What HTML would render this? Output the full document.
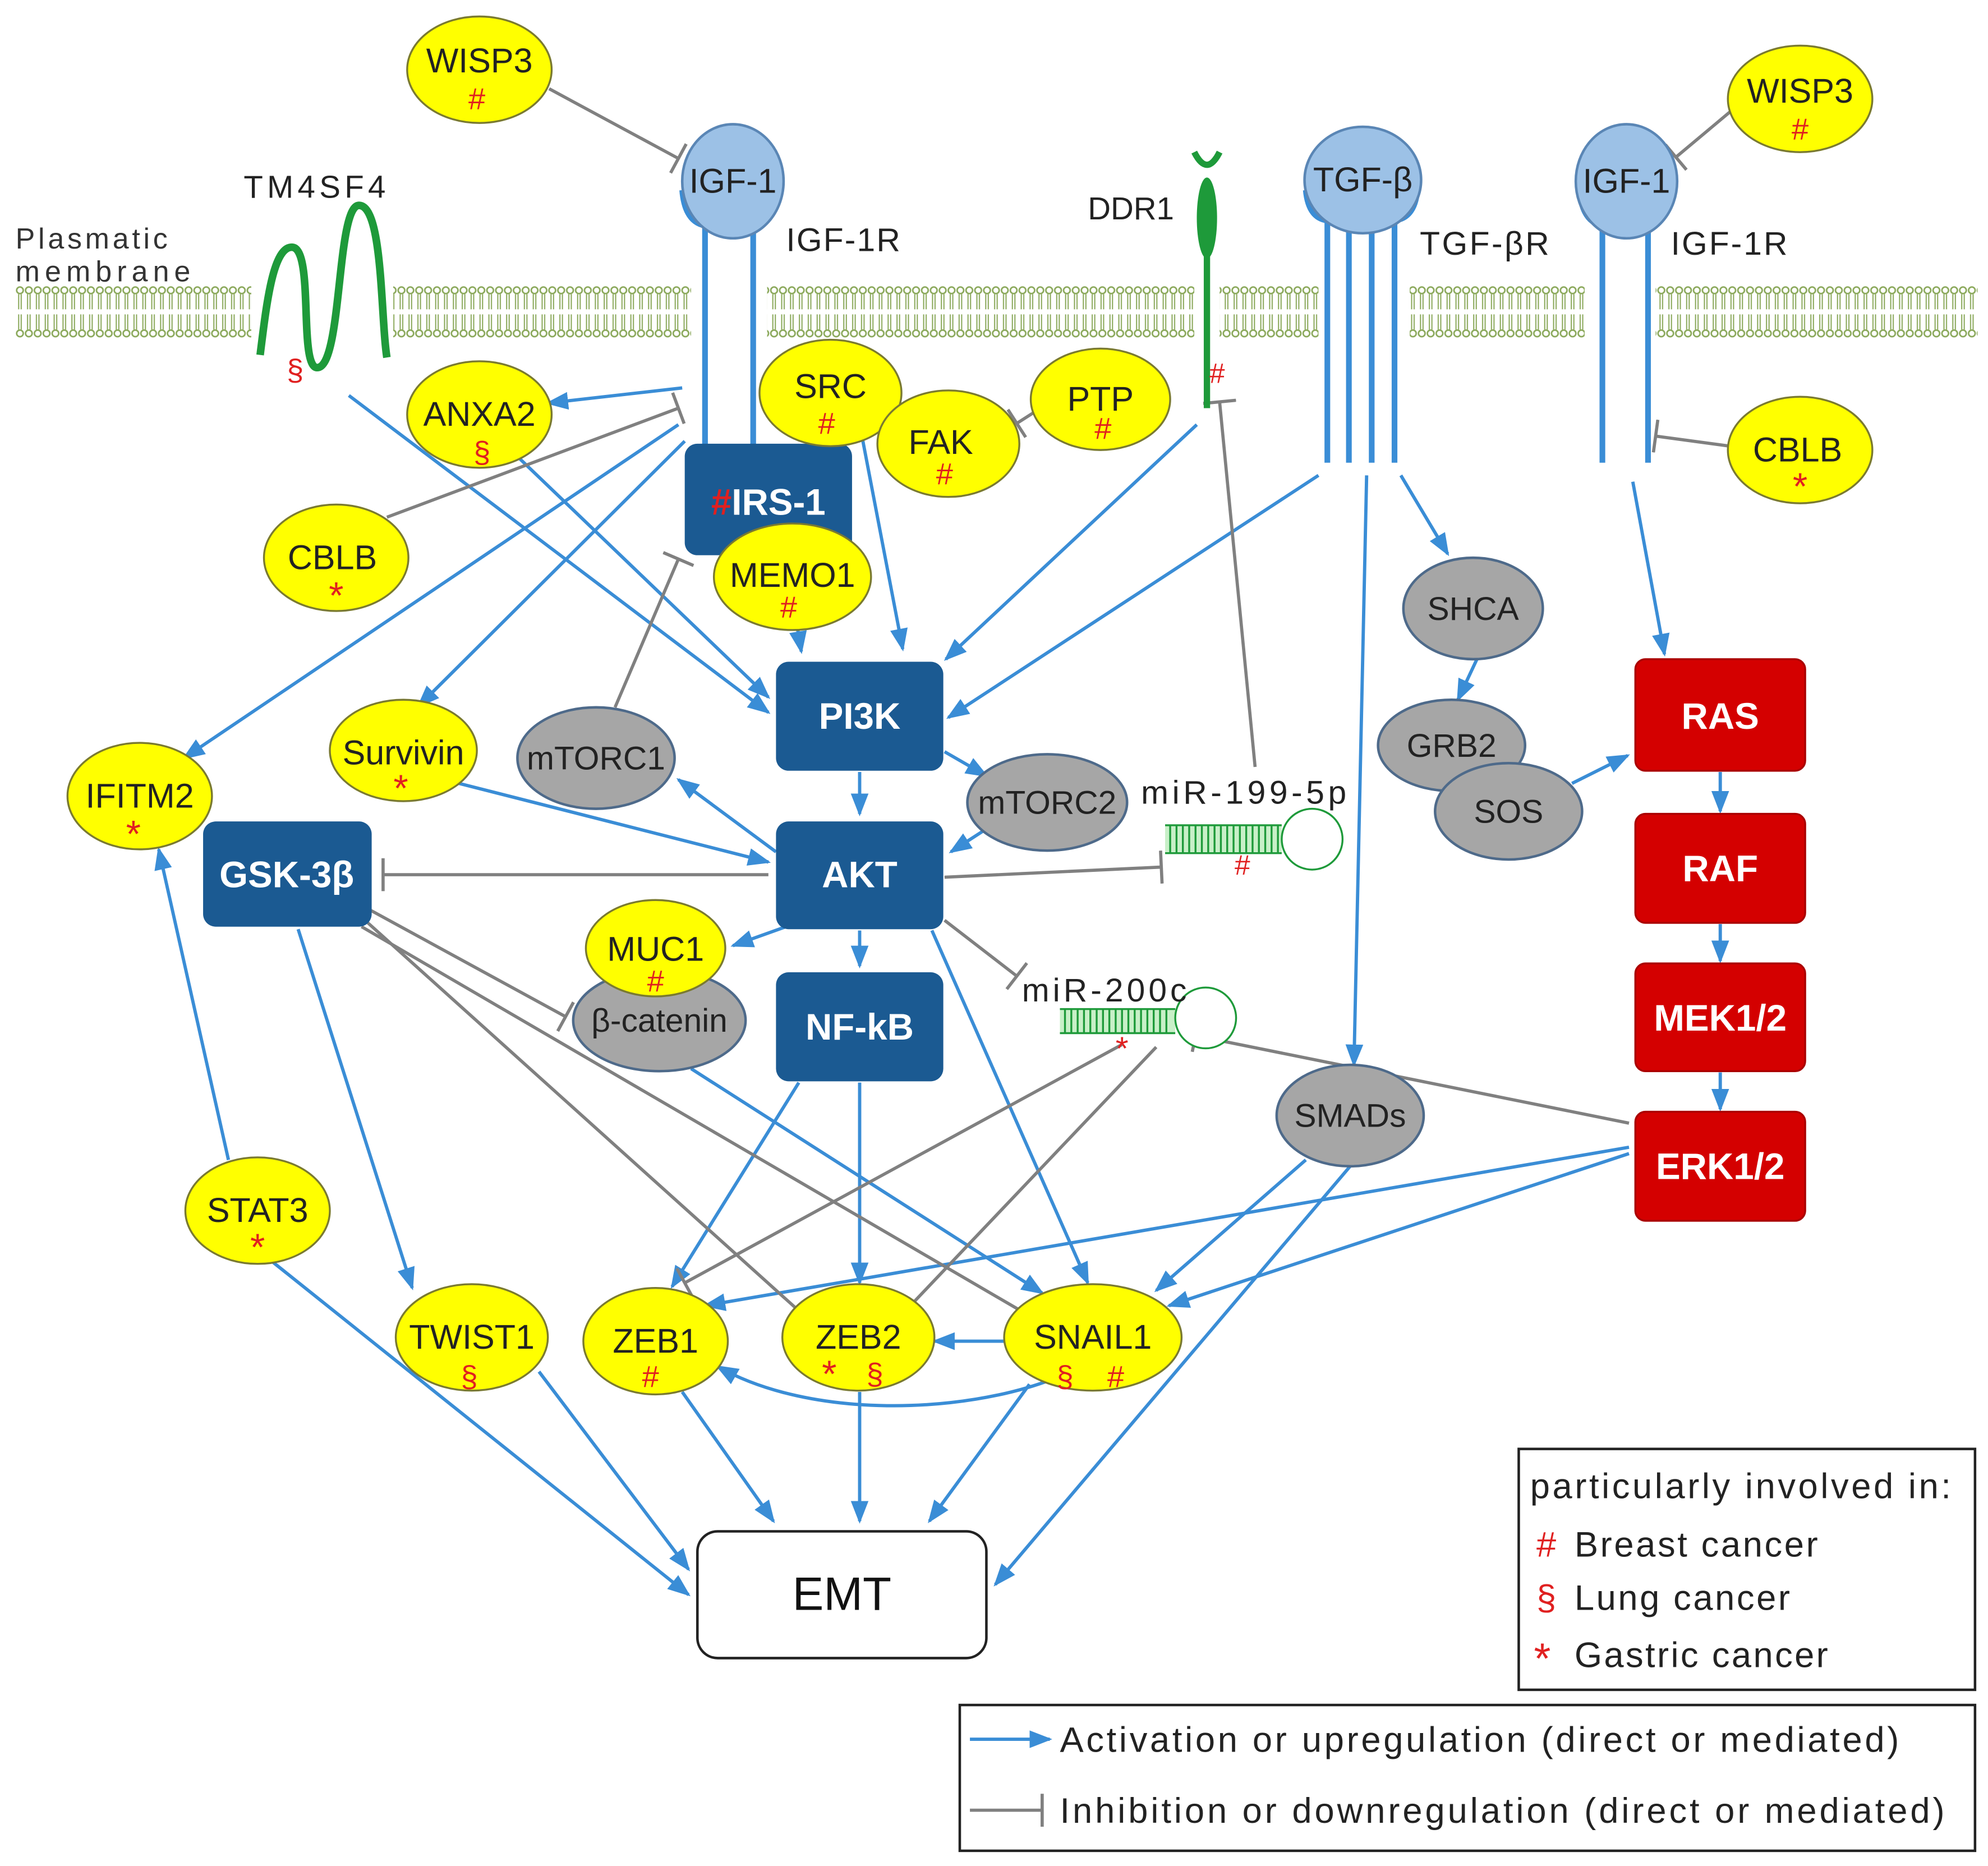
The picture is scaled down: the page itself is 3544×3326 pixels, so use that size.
<!DOCTYPE html>
<html><head><meta charset="utf-8"><style>
html,body{margin:0;padding:0;background:#fff}
svg{display:block}
text{font-family:"Liberation Sans",sans-serif}
</style></head><body>
<svg width="3544" height="3326" viewBox="0 0 1568 1472" xmlns="http://www.w3.org/2000/svg">
<defs>
<pattern id="lip" x="12" y="222" width="7" height="50" patternUnits="userSpaceOnUse">
<circle cx="3.5" cy="7" r="2.6" fill="none" stroke="#8aa85a" stroke-width="1.2"/>
<circle cx="3.5" cy="41" r="2.6" fill="none" stroke="#8aa85a" stroke-width="1.2"/>
<path d="M2.5,10 L2.5,22 M4.5,10 L4.5,22 M2.5,26 L2.5,38 M4.5,26 L4.5,38" stroke="#8aa85a" stroke-width="0.9"/>
</pattern>
<marker id="ar" markerUnits="userSpaceOnUse" markerWidth="18" markerHeight="14" refX="16" refY="7" orient="auto"><path d="M0,0 L18,7 L0,14 z" fill="#3a8dd6"/></marker>
<marker id="tb" markerUnits="userSpaceOnUse" markerWidth="6" markerHeight="26" refX="2" refY="13" orient="auto"><path d="M2,0 L2,26" stroke="#808080" stroke-width="2.5"/></marker>
</defs>

<rect x="12" y="222" width="1548" height="50" fill="url(#lip)"/>
<rect x="198" y="220" width="112" height="56" fill="#fff"/>
<rect x="545" y="220" width="60" height="56" fill="#fff"/>
<rect x="942" y="220" width="20" height="56" fill="#fff"/>
<rect x="1040" y="220" width="72" height="56" fill="#fff"/>
<rect x="1250" y="220" width="56" height="56" fill="#fff"/>

<text x="12" y="196" font-size="23" fill="#333" textLength="120">Plasmatic</text>
<text x="12" y="222" font-size="23" fill="#333" textLength="138">membrane</text>
<text x="192" y="156" font-size="25" fill="#222" textLength="112">TM4SF4</text>
<path d="M205,280 C210,240 215,195 230,195 C248,195 235,290 250,290 C270,290 265,162 283,162 C302,162 300,250 305,282" fill="none" stroke="#1e9a3a" stroke-width="6"/>
<text x="226" y="300" font-size="24" fill="#e02020">§</text>

<g stroke="#3a8dd6" stroke-width="2.6" fill="none" marker-end="url(#ar)">
<line x1="275" y1="312" x2="606" y2="562"/>
<line x1="538" y1="306" x2="432" y2="318"/>
<line x1="535" y1="335" x2="145" y2="598"/>
<line x1="540" y1="348" x2="330" y2="557"/>
<line x1="410" y1="362" x2="606" y2="550"/>
<line x1="680" y1="345" x2="712" y2="512"/>
<line x1="628" y1="490" x2="632" y2="514"/>
<line x1="944" y1="335" x2="746" y2="520"/>
<line x1="1040" y1="375" x2="748" y2="566"/>
<line x1="1078" y1="375" x2="1068" y2="840"/>
<line x1="1105" y1="375" x2="1142" y2="437"/>
<line x1="1165" y1="520" x2="1150" y2="552"/>
<line x1="1240" y1="618" x2="1284" y2="596"/>
<line x1="1288" y1="380" x2="1313" y2="516"/>
<line x1="1357" y1="609" x2="1357" y2="640"/>
<line x1="1357" y1="729" x2="1357" y2="758"/>
<line x1="1357" y1="846" x2="1357" y2="875"/>
<line x1="678" y1="609" x2="678" y2="642"/>
<line x1="745" y1="593" x2="778" y2="612"/>
<line x1="612" y1="672" x2="535" y2="615"/>
<line x1="784" y1="650" x2="750" y2="672"/>
<line x1="358" y1="617" x2="606" y2="680"/>
<line x1="678" y1="734" x2="678" y2="762"/>
<line x1="620" y1="731" x2="578" y2="746"/>
<line x1="735" y1="734" x2="858" y2="1012"/>
<line x1="630" y1="854" x2="530" y2="1015"/>
<line x1="678" y1="854" x2="678" y2="1012"/>
<line x1="545" y1="843" x2="822" y2="1020"/>
<line x1="235" y1="733" x2="325" y2="1016"/>
<line x1="180" y1="915" x2="125" y2="670"/>
<line x1="208" y1="990" x2="543" y2="1258"/>
<line x1="425" y1="1082" x2="543" y2="1238"/>
<line x1="538" y1="1098" x2="610" y2="1200"/>
<line x1="678" y1="1098" x2="678" y2="1200"/>
<line x1="812" y1="1092" x2="733" y2="1200"/>
<line x1="1065" y1="920" x2="785" y2="1250"/>
<line x1="1030" y1="915" x2="912" y2="1018"/>
<line x1="1285" y1="905" x2="556" y2="1030"/>
<line x1="1285" y1="910" x2="922" y2="1030"/>
<line x1="795" y1="1058" x2="737" y2="1058"/>
<path d="M830,1088 C760,1115 640,1120 566,1078"/>
</g>

<g stroke="#808080" stroke-width="2.5" fill="none" marker-end="url(#tb)">
<line x1="433" y1="70" x2="535" y2="125"/>
<line x1="1365" y1="88" x2="1322" y2="124"/>
<line x1="1365" y1="352" x2="1306" y2="344"/>
<line x1="305" y1="408" x2="535" y2="322"/>
<line x1="816" y1="325" x2="802" y2="334"/>
<line x1="485" y1="558" x2="535" y2="441"/>
<line x1="990" y1="605" x2="962" y2="317"/>
<line x1="745" y1="692" x2="916" y2="684"/>
<line x1="606" y1="690" x2="302" y2="690"/>
<line x1="292" y1="718" x2="446" y2="802"/>
<line x1="290" y1="728" x2="630" y2="1034"/>
<line x1="285" y1="731" x2="812" y2="1038"/>
<line x1="745" y1="726" x2="802" y2="770"/>
<line x1="1285" y1="886" x2="943" y2="817"/>
<line x1="885" y1="824" x2="540" y2="1012"/>
<line x1="912" y1="826" x2="718" y2="1030"/>
</g>

<g stroke="#3a8dd6" stroke-width="4.5" fill="none">
<line x1="556" y1="172" x2="556" y2="352"/><line x1="594" y1="172" x2="594" y2="352"/>
<path d="M538,150 Q540,175 556,178 M612,150 Q610,175 594,178"/>
<line x1="1264" y1="172" x2="1264" y2="365"/><line x1="1300" y1="172" x2="1300" y2="365"/>
<path d="M1246,150 Q1248,175 1264,178 M1318,150 Q1316,175 1300,178"/>
<line x1="1047" y1="172" x2="1047" y2="365"/><line x1="1064" y1="178" x2="1064" y2="365"/>
<line x1="1082" y1="178" x2="1082" y2="365"/><line x1="1100" y1="172" x2="1100" y2="365"/>
<path d="M1030,150 Q1032,172 1047,174 M1118,150 Q1116,172 1100,174"/>
</g>
<ellipse cx="578" cy="143" rx="40" ry="45" fill="#9cc1e6" stroke="#5a86b5" stroke-width="2"/>
<text x="578" y="152" font-size="27" text-anchor="middle" fill="#222">IGF-1</text>
<ellipse cx="1283" cy="143" rx="40" ry="45" fill="#9cc1e6" stroke="#5a86b5" stroke-width="2"/>
<text x="1283" y="152" font-size="27" text-anchor="middle" fill="#222">IGF-1</text>
<ellipse cx="1075" cy="142" rx="46" ry="42" fill="#9cc1e6" stroke="#5a86b5" stroke-width="2"/>
<text x="1075" y="151" font-size="27" text-anchor="middle" fill="#222">TGF-β</text>
<text x="620" y="198" font-size="26" fill="#222" textLength="90">IGF-1R</text>
<text x="1318" y="201" font-size="26" fill="#222" textLength="92">IGF-1R</text>
<text x="1120" y="201" font-size="26" fill="#222" textLength="102">TGF-βR</text>
<text x="858" y="173" font-size="25" fill="#222">DDR1</text>
<path d="M952,150 L952,322" stroke="#1e9a3a" stroke-width="5"/>
<ellipse cx="952" cy="172" rx="8" ry="32" fill="#1e9a3a"/>
<path d="M942,120 Q952,140 962,120" stroke="#1e9a3a" stroke-width="5" fill="none"/>
<text x="960" y="302" font-size="22" fill="#e02020" text-anchor="middle">#</text>

<g stroke="#1e9a3a" stroke-width="1.5" fill="none">
<rect x="919" y="651" width="92" height="22" fill="#c8f0c8" stroke="none"/>
<path d="M919,651 L1011,651 M919,673 L1011,673"/>
<path d="M923,651 V673 M928,651 V673 M933,651 V673 M938,651 V673 M943,651 V673 M948,651 V673 M953,651 V673 M958,651 V673 M963,651 V673 M968,651 V673 M973,651 V673 M978,651 V673 M983,651 V673 M988,651 V673 M993,651 V673 M998,651 V673 M1003,651 V673 M1008,651 V673"/>
<circle cx="1035" cy="662" r="24" fill="#fff"/>
<rect x="836" y="796" width="91" height="19" fill="#c8f0c8" stroke="none"/>
<path d="M836,796 L927,796 M836,815 L927,815"/>
<path d="M840,796 V815 M845,796 V815 M850,796 V815 M855,796 V815 M860,796 V815 M865,796 V815 M870,796 V815 M875,796 V815 M880,796 V815 M885,796 V815 M890,796 V815 M895,796 V815 M900,796 V815 M905,796 V815 M910,796 V815 M915,796 V815 M920,796 V815"/>
<circle cx="951" cy="803" r="24" fill="#fff"/>
</g>
<text x="900" y="634" font-size="26" fill="#222" textLength="162">miR-199-5p</text>
<text x="980" y="690" font-size="22" fill="#e02020" text-anchor="middle">#</text>
<text x="806" y="790" font-size="26" fill="#222" textLength="130">miR-200c</text>
<text x="885" y="836" font-size="26" fill="#e02020" text-anchor="middle">*</text>

<g font-weight="bold" font-size="29" fill="#fff" text-anchor="middle">
<rect x="540" y="350" width="132" height="88" rx="10" fill="#1b5a92"/>
<text x="606" y="406"><tspan fill="#e02020">#</tspan>IRS-1</text>
<rect x="612" y="522" width="132" height="86" rx="10" fill="#1b5a92"/><text x="678" y="575">PI3K</text>
<rect x="612" y="648" width="132" height="85" rx="10" fill="#1b5a92"/><text x="678" y="700">AKT</text>
<rect x="612" y="767" width="132" height="86" rx="10" fill="#1b5a92"/><text x="678" y="820">NF-kB</text>
<rect x="160" y="648" width="133" height="83" rx="10" fill="#1b5a92"/><text x="226" y="700">GSK-3β</text>
<rect x="1290" y="520" width="134" height="88" rx="8" fill="#d40000" stroke="#a00" stroke-width="1.5"/><text x="1357" y="575">RAS</text>
<rect x="1290" y="642" width="134" height="86" rx="8" fill="#d40000" stroke="#a00" stroke-width="1.5"/><text x="1357" y="695">RAF</text>
<rect x="1290" y="760" width="134" height="85" rx="8" fill="#d40000" stroke="#a00" stroke-width="1.5"/><text x="1357" y="813">MEK1/2</text>
<rect x="1290" y="877" width="134" height="86" rx="8" fill="#d40000" stroke="#a00" stroke-width="1.5"/><text x="1357" y="930">ERK1/2</text>
</g>

<g fill="#a6a6a6" stroke="#4e6a8a" stroke-width="2">
<ellipse cx="470" cy="598" rx="62" ry="40"/>
<ellipse cx="826" cy="633" rx="63" ry="38"/>
<ellipse cx="1162" cy="480" rx="55" ry="40"/>
<ellipse cx="1145" cy="588" rx="58" ry="36"/>
<ellipse cx="1190" cy="640" rx="58" ry="38"/>
<ellipse cx="1065" cy="880" rx="58" ry="40"/>
<ellipse cx="520" cy="805" rx="68" ry="40"/>
</g>
<g font-size="26" fill="#222" text-anchor="middle">
<text x="470" y="607">mTORC1</text><text x="826" y="642">mTORC2</text>
<text x="1162" y="489">SHCA</text><text x="1145" y="597">GRB2</text>
<text x="1190" y="649">SOS</text><text x="1065" y="889">SMADs</text>
<text x="520" y="814">β-catenin</text>
</g>

<g fill="#ffff00" stroke="#7a7a30" stroke-width="1.5">
<ellipse cx="378" cy="55" rx="57" ry="42"/><ellipse cx="1420" cy="78" rx="57" ry="42"/>
<ellipse cx="655" cy="310" rx="56" ry="42"/><ellipse cx="868" cy="315" rx="55" ry="40"/>
<ellipse cx="748" cy="350" rx="56" ry="42"/>
<ellipse cx="378" cy="327" rx="57" ry="42"/><ellipse cx="265" cy="440" rx="57" ry="42"/>
<ellipse cx="1420" cy="355" rx="57" ry="42"/><ellipse cx="625" cy="455" rx="62" ry="42"/>
<ellipse cx="318" cy="592" rx="58" ry="40"/><ellipse cx="110" cy="628" rx="57" ry="42"/>
<ellipse cx="517" cy="748" rx="55" ry="38"/><ellipse cx="203" cy="955" rx="57" ry="42"/>
<ellipse cx="372" cy="1055" rx="60" ry="42"/><ellipse cx="517" cy="1058" rx="57" ry="42"/>
<ellipse cx="677" cy="1055" rx="60" ry="42"/><ellipse cx="862" cy="1055" rx="70" ry="42"/>
</g>
<g font-size="27" fill="#222" text-anchor="middle">
<text x="378" y="57">WISP3</text><text x="1420" y="81">WISP3</text>
<text x="655" y="314">SRC</text><text x="868" y="324">PTP</text><text x="742" y="358">FAK</text>
<text x="378" y="336">ANXA2</text><text x="262" y="449">CBLB</text><text x="1418" y="364">CBLB</text>
<text x="625" y="463">MEMO1</text><text x="318" y="603">Survivin</text><text x="110" y="637">IFITM2</text>
<text x="517" y="758">MUC1</text><text x="203" y="964">STAT3</text><text x="372" y="1064">TWIST1</text>
<text x="517" y="1067">ZEB1</text><text x="677" y="1064">ZEB2</text><text x="862" y="1064">SNAIL1</text>
</g>
<g font-size="24" fill="#e02020" text-anchor="middle">
<text x="376" y="86">#</text><text x="1420" y="110">#</text><text x="652" y="342">#</text>
<text x="870" y="346">#</text><text x="745" y="382">#</text><text x="380" y="365">§</text>
<text x="265" y="480" font-size="30">*</text><text x="1420" y="394" font-size="30">*</text>
<text x="622" y="487">#</text><text x="316" y="632" font-size="30">*</text><text x="105" y="668" font-size="30">*</text>
<text x="517" y="782">#</text><text x="203" y="994" font-size="30">*</text><text x="370" y="1094">§</text>
<text x="513" y="1094">#</text><text x="654" y="1094" font-size="30">*</text><text x="690" y="1092">§</text>
<text x="840" y="1094">§</text><text x="880" y="1094">#</text>
</g>

<rect x="550" y="1208" width="228" height="100" rx="16" fill="#fff" stroke="#222" stroke-width="2"/>
<text x="664" y="1270" font-size="37" text-anchor="middle" fill="#111">EMT</text>

<rect x="1198" y="1143" width="360" height="190" fill="#fff" stroke="#222" stroke-width="2"/>
<text x="1207" y="1182" font-size="28" fill="#222" textLength="332">particularly involved in:</text>
<text x="1212" y="1228" font-size="28" fill="#e02020">#</text><text x="1242" y="1228" font-size="28" fill="#222" textLength="192">Breast cancer</text>
<text x="1212" y="1270" font-size="28" fill="#e02020">§</text><text x="1242" y="1270" font-size="28" fill="#222" textLength="170">Lung cancer</text>
<text x="1210" y="1320" font-size="34" fill="#e02020">*</text><text x="1242" y="1315" font-size="28" fill="#222" textLength="200">Gastric cancer</text>
<rect x="757" y="1345" width="801" height="115" fill="#fff" stroke="#222" stroke-width="2"/>
<line x1="765" y1="1372" x2="828" y2="1372" stroke="#3a8dd6" stroke-width="2.6" marker-end="url(#ar)"/>
<text x="836" y="1382" font-size="28" fill="#222" textLength="662">Activation or upregulation (direct or mediated)</text>
<line x1="765" y1="1428" x2="822" y2="1428" stroke="#808080" stroke-width="2.5" marker-end="url(#tb)"/>
<text x="836" y="1438" font-size="28" fill="#222" textLength="698">Inhibition or downregulation (direct or mediated)</text>
</svg>
</body></html>
